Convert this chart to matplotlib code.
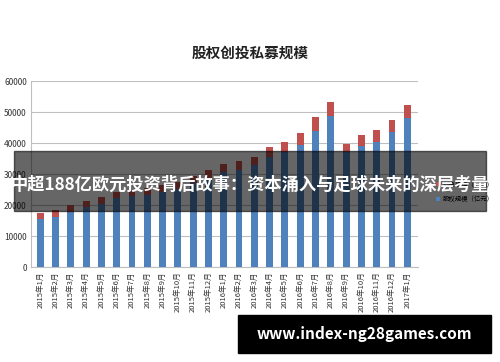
import matplotlib.pyplot as plt
from matplotlib.patches import Rectangle
import numpy as np

plt.rcParams['font.family'] = ['Noto Sans CJK SC', 'DejaVu Sans']

# 月份
months = ["2015年%d月" % m for m in range(1, 13)] + \
         ["2016年%d月" % m for m in range(1, 13)] + ["2017年1月"]

# 下段（蓝）与上段（红），单位：亿元
equity = [15400, 16200, 17800, 19500, 20500, 22200, 22800, 23300, 24100, 25200,
          27000, 28700, 30600, 31400, 32900, 35600, 37200, 39400, 44000, 48700,
          37200, 39000, 40400, 43600, 48000]
venture = [2100, 2100, 2400, 1800, 2200, 1900, 2000, 2100, 2300, 2300,
           2500, 2600, 2800, 2800, 2700, 3000, 3100, 3900, 4300, 4500,
           2500, 3700, 3800, 3900, 4200]
yticks = [0, 10000, 20000, 30000, 40000, 50000, 60000]

banner = "中超188亿欧元投资背后故事：资本涌入与足球未来的深层考量"
site = "www.index-ng28games.com"


def chart():
    fig = plt.figure(figsize=(5, 3.62), dpi=100)
    ax = fig.add_axes([0.062, 0.262, 0.774, 0.514])

    x = np.arange(len(months))
    ax.bar(x, equity, width=0.45, color="#4F81BD", label="股权规模（亿元）", zorder=3)
    ax.bar(x, venture, width=0.45, bottom=equity, color="#C0504D",
           label="创投规模（亿元）", zorder=3)

    ax.set_xlim(-0.6, 24.7)
    ax.set_ylim(0, 60000)
    ax.set_yticks(yticks)
    ax.set_yticklabels([str(v) for v in yticks], fontsize=6, color="#333333")
    ax.set_xticks(x)
    ax.set_xticklabels(months, rotation=90, fontsize=5.5, color="#333333")
    ax.tick_params(axis="both", length=0, pad=3)
    ax.grid(axis="y", color="#bfbfbf", linewidth=0.8, zorder=0)
    for side in ["top", "right"]:
        ax.spines[side].set_visible(False)
    ax.spines["left"].set_color("#bfbfbf")
    ax.spines["bottom"].set_color("#bfbfbf")

    h, l = ax.get_legend_handles_labels()
    fig.legend(h[::-1], l[::-1], loc="center left", bbox_to_anchor=(0.865, 0.47),
               fontsize=4.6, frameon=False, handlelength=0.6, handleheight=0.6,
               labelspacing=1.0, handletextpad=0.4, borderaxespad=0.2)

    fig.text(0.5, 0.855, "股权创投私募规模", ha="center", va="center",
             fontsize=10.5, fontweight="bold", color="#222222")

    # 半透明横幅
    fig.add_artist(Rectangle((0.028, 1 - 211 / 362), 0.944, 60 / 362,
                             transform=fig.transFigure, color="black",
                             alpha=0.6, zorder=5))
    fig.text(0.5, 1 - 185 / 362, banner, ha="center", va="center",
             fontsize=12.4, fontweight="bold", color="white", zorder=6)

    # 底部网址
    fig.add_artist(Rectangle((238 / 500, 1 - 353 / 362), 253 / 500, 38 / 362,
                             transform=fig.transFigure, color="black", zorder=5))
    fig.text(364 / 500, 1 - 334 / 362, site, ha="center", va="center",
             fontsize=11, fontweight="bold", color="white", zorder=6)

    fig.savefig("out.png", dpi=100)


if __name__ == "__main__":
    chart()
